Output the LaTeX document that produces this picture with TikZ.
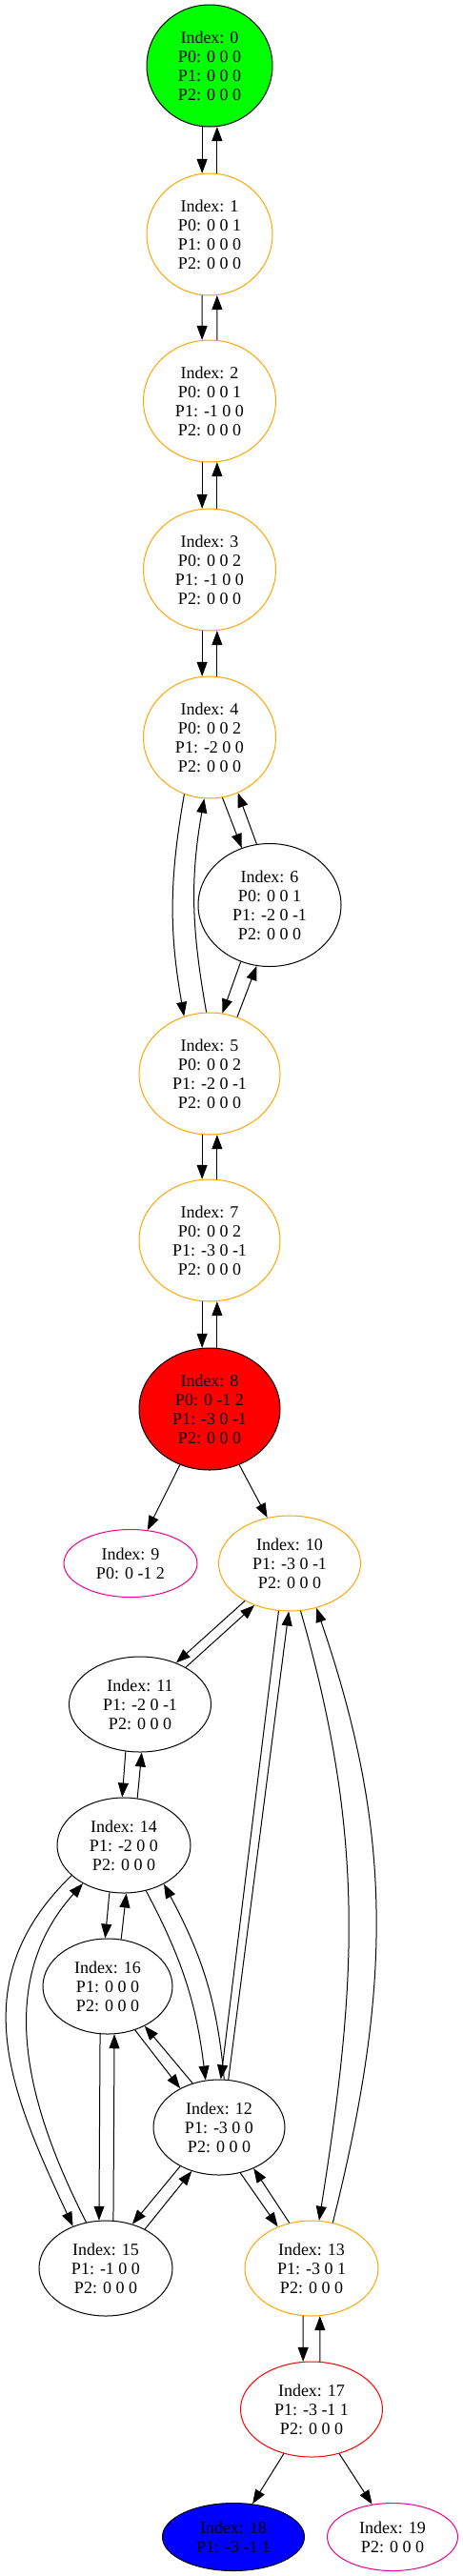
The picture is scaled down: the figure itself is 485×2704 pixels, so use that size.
\documentclass[tikz,border=0pt]{standalone}
\usepackage{fontspec}
\setmainfont{Liberation Serif}
\usepackage{tikz}
\usetikzlibrary{shapes.geometric,arrows.meta}
\tikzset{>={Triangle[length=15pt,width=11pt]}}
\usepackage{xcolor}
\definecolor{gvorange}{HTML}{FFA500}
\definecolor{gvgreen}{HTML}{00FF00}
\colorlet{Vcol}{gvorange}
\colorlet{Lcol}{magenta}
\tikzstyle{state}=[ellipse,draw=black,line width=1pt,inner sep=0,align=center,
                   font=\fontsize{18}{20}\selectfont]
\tikzstyle{visited}=[state,draw=Vcol]
\tikzstyle{start}=[state,fill=gvgreen]
\tikzstyle{goal}=[state,fill=red]
\tikzstyle{hit}=[state,draw=red]
\tikzstyle{found}=[state,fill=blue]
\tikzstyle{leaf}=[state,draw=Lcol]
\tikzstyle{trans}=[->,line width=1pt]
\tikzset{
  dims/.style 2 args={minimum width=#1pt,minimum height=#2pt}}

\begin{document}
\begin{tikzpicture}[x=1pt,y=1pt]
  \useasboundingbox (0,0) rectangle (485,-2704);

  % STATES
  \node[start,dims={132}{128}] (n0) at (220,-69)
    {Index: 0\\P0: 0 0 0\\P1: 0 0 0\\P2: 0 0 0};
  \node[visited,dims={132}{128}] (n1) at (220,-246)
    {Index: 1\\P0: 0 0 1\\P1: 0 0 0\\P2: 0 0 0};
  \node[visited,dims={139}{128}] (n2) at (220,-421)
    {Index: 2\\P0: 0 0 1\\P1: -1 0 0\\P2: 0 0 0};
  \node[visited,dims={139}{128}] (n3) at (220,-598)
    {Index: 3\\P0: 0 0 2\\P1: -1 0 0\\P2: 0 0 0};
  \node[visited,dims={139}{128}] (n4) at (220,-774)
    {Index: 4\\P0: 0 0 2\\P1: -2 0 0\\P2: 0 0 0};
  \node[state,dims={150}{129}] (n6) at (283,-950)
    {Index: 6\\P0: 0 0 1\\P1: -2 0 -1\\P2: 0 0 0};
  \node[visited,dims={148}{128}] (n5) at (220,-1127)
    {Index: 5\\P0: 0 0 2\\P1: -2 0 -1\\P2: 0 0 0};
  \node[visited,dims={148}{128}] (n7) at (220,-1302)
    {Index: 7\\P0: 0 0 2\\P1: -3 0 -1\\P2: 0 0 0};
  \node[goal,dims={148}{128}] (n8) at (220,-1479)
    {Index: 8\\P0: 0 -1 2\\P1: -3 0 -1\\P2: 0 0 0};
  \node[leaf,dims={140}{71}] (n9) at (137,-1641)
    {Index: 9\\P0: 0 -1 2};
  \node[visited,dims={149}{100}] (n10) at (304,-1641)
    {Index: 10\\P1: -3 0 -1\\P2: 0 0 0};
  \node[state,dims={149}{100}] (n11) at (147,-1789)
    {Index: 11\\P1: -2 0 -1\\P2: 0 0 0};
  \node[state,dims={140}{100}] (n14) at (130,-1937)
    {Index: 14\\P1: -2 0 0\\P2: 0 0 0};
  \node[state,dims={136}{100}] (n16) at (113,-2085)
    {Index: 16\\P1: 0 0 0\\P2: 0 0 0};
  \node[state,dims={138}{100}] (n12) at (230,-2233)
    {Index: 12\\P1: -3 0 0\\P2: 0 0 0};
  \node[state,dims={140}{100}] (n15) at (111,-2381)
    {Index: 15\\P1: -1 0 0\\P2: 0 0 0};
  \node[visited,dims={140}{100}] (n13) at (327,-2381)
    {Index: 13\\P1: -3 0 1\\P2: 0 0 0};
  \node[hit,dims={149}{100}] (n17) at (327,-2529)
    {Index: 17\\P1: -3 -1 1\\P2: 0 0 0};
  \node[found,dims={149}{71}] (n18) at (245,-2663)
    {Index: 18\\P1: -3 -1 1};
  \node[leaf,dims={137}{71}] (n19) at (412,-2663)
    {Index: 19\\P2: 0 0 0};

  % STRAIGHT PAIRS
  \foreach \a/\b/\d [evaluate={\p=int(90+\d);\q=int(90-\d);}]
    in {0/1/7,1/2/7,2/3/7,3/4/7,5/7/7,7/8/7,13/17/10}{
    \draw[trans] (n\a.-\p) -- (n\b.\p);
    \draw[trans] (n\b.\q) -- (n\a.-\q);
  }

  % TRANSITIONS 4, 5, 6
  \draw[trans] (n4.-114) to[out=-100,in=100] (n5.114);
  \draw[trans] (n5.93) to[out=100,in=-100] (n4.-95);
  \draw[trans] (n4.-78) -- (n6.116);
  \draw[trans] (n6.102) -- (n4.-63);
  \draw[trans] (n6.-117) -- (n5.78);
  \draw[trans] (n5.64) -- (n6.-102);

  % TRANSITIONS FROM 8
  \draw[trans] (n8.-118) -- (n9.63);
  \draw[trans] (n8.-62) -- (n10.116);

  % LOWER PART
  \draw[trans] (n10.-140) -- (n11.49);
  \draw[trans] (n11.39) -- (n10.-130);
  \draw[trans] (n11.-107) -- (n14.92);
  \draw[trans] (n14.74) -- (n11.-88);
  \draw[trans] (n14.-107) -- (n16.93);
  \draw[trans] (n16.74) -- (n14.-87);
  \draw[trans] (n14.-64) to[out=-62,in=97] (n12.106);
  \draw[trans] (n12.84) to[out=95,in=-62] (n14.-44);
  \draw[trans] (n10.-103) -- (n12.88);
  \draw[trans] (n12.79) -- (n10.-91);
  \draw[trans] (n10.-77) to[out=-74,in=81] (n13.81);
  \draw[trans] (n13.65) to[out=76,in=-71] (n10.-59);
  \draw[trans] (n16.-58) -- (n12.135);
  \draw[trans] (n12.121) -- (n16.-47);
  \draw[trans] (n14.-150) to[out=-136,in=115,looseness=1.1] (n15.128);
  \draw[trans] (n15.113) to[out=117,in=-132] (n14.-137);
  \draw[trans] (n16.-99) -- (n15.98);
  \draw[trans] (n15.81) -- (n16.-82);
  \draw[trans] (n12.-135) -- (n15.59);
  \draw[trans] (n15.45) -- (n12.-122);
  \draw[trans] (n12.-65) -- (n13.129);
  \draw[trans] (n13.116) -- (n12.-50);
  \draw[trans] (n17.-122) -- (n18.60);
  \draw[trans] (n17.-58) -- (n19.122);

\end{tikzpicture}
\end{document}
